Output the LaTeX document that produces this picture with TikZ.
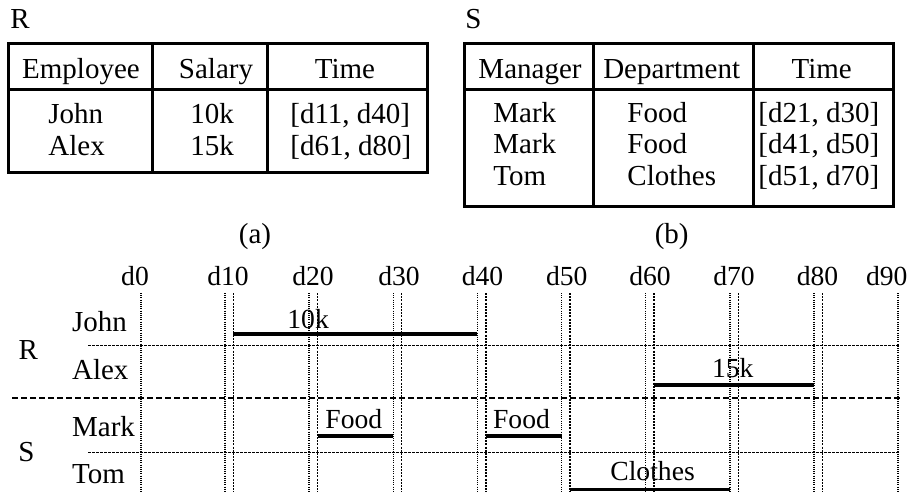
\documentclass[tikz,border=0pt]{standalone}
\usepackage{fontspec}
\setmainfont{Liberation Serif}
\usetikzlibrary{positioning}

% x position of a day on the time axis
\newcommand{\dayx}[1]{140.8+8.415*#1}

\begin{document}
\begin{tikzpicture}[
    x=0.5pt, y=-0.5pt,
    txt/.style={inner sep=0pt, font=\fontsize{14.5}{17}\selectfont},
    small/.style={inner sep=0pt, font=\fontsize{13.8}{16}\selectfont},
    frame/.style={line width=1.5pt},
    bar/.style={line width=1.8pt},
    daygrid/.style={line width=0.7pt, dash pattern=on 0.5pt off 0.6pt},
    daygridb/.style={line width=0.7pt, dash pattern=on 1pt off 0.6pt},
    rowsep/.style={line width=0.7pt, dash pattern=on 1.5pt off 0.5pt},
    relsep/.style={line width=1.1pt, dash pattern=on 3pt off 1.5pt}
]
    \useasboundingbox (0,0) rectangle (913,493);

    % Table R
    \node[txt, anchor=base west] (rname) at (10,28) {R};
    \draw[frame] (8,43) rectangle (427,172);
    \draw[frame] (8,89) -- (427,89);
    \draw[frame] (152,43) -- (152,172);
    \draw[frame] (267,43) -- (267,172);
    \node[txt, anchor=base] (remp) at (81,78) {Employee};
    \node[txt, anchor=base] (rsal) at (216,78) {Salary};
    \node[txt, anchor=base] (rtime) at (345,78) {Time};
    \node[txt, anchor=base west] (rj) at (48,123) {John};
    \node[txt, anchor=base west] (ra) at (48,155) {Alex};
    \node[txt, anchor=base west] (rjs) at (190,123) {10k};
    \node[txt, anchor=base west] (ras) at (190,155) {15k};
    \node[txt, anchor=base west] (rjt) at (290,123) {[d11, d40]};
    \node[txt, anchor=base west] (rat) at (290,155) {[d61, d80]};
    \node[txt, anchor=base] (capa) at (255,243) {(a)};

    % Table S
    \node[txt, anchor=base west] (sname) at (465,28) {S};
    \draw[frame] (464,43) rectangle (893,206);
    \draw[frame] (464,89) -- (893,89);
    \draw[frame] (593,43) -- (593,206);
    \draw[frame] (753,43) -- (753,206);
    \node[txt, anchor=base] (smgr) at (530,78) {Manager};
    \node[txt, anchor=base] (sdep) at (671.7,78) {Department};
    \node[txt, anchor=base] (stime) at (821.7,78) {Time};
    \node[txt, anchor=base west] (sm1) at (493,122) {Mark};
    \node[txt, anchor=base west] (sm2) at (493,153.5) {Mark};
    \node[txt, anchor=base west] (st) at (493,185) {Tom};
    \node[txt, anchor=base west] (sm1d) at (627,122) {Food};
    \node[txt, anchor=base west] (sm2d) at (627,153.5) {Food};
    \node[txt, anchor=base west] (std) at (627,185) {Clothes};
    \node[txt, anchor=base west] (sm1t) at (758,122) {[d21, d30]};
    \node[txt, anchor=base west] (sm2t) at (758,153.5) {[d41, d50]};
    \node[txt, anchor=base west] (stt) at (758,185) {[d51, d70]};
    \node[txt, anchor=base] (capb) at (671.7,243) {(b)};

    % Time axis
    \foreach \d/\cx in {0/135, 10/228, 20/313, 30/399, 40/482.5, 50/566.7, 60/650, 70/734, 80/817.5, 90/886.7}
        \node[small, anchor=base] (tick\d) at (\cx,285) {d\d};
    \foreach \d in {0,10,...,90}
        \draw[daygrid] ({\dayx{\d}},293) -- ({\dayx{\d}},492);
    \foreach \d in {11,21,...,81}
        \draw[daygridb] ({\dayx{\d}},293) -- ({\dayx{\d}},492);

    % Row separators
    \draw[rowsep] (88,345.7) -- (900,345.7);
    \draw[rowsep] (88,452.3) -- (900,452.3);
    \draw[relsep] (12,398.3) -- (900,398.3);

    % Row labels
    \node[txt, anchor=base west] (lr) at (18.3,359) {R};
    \node[txt, anchor=base west] (ls) at (18,461.7) {S};
    \node[txt, anchor=base west] (lj) at (71.7,331.7) {John};
    \node[txt, anchor=base west] (la) at (71.7,379.3) {Alex};
    \node[txt, anchor=base west] (lm) at (71.7,436.7) {Mark};
    \node[txt, anchor=base west] (lt) at (71.7,483.3) {Tom};

    % Intervals
    \draw[bar] ({\dayx{11}},334) -- ({\dayx{40}},334);
    \node[small, anchor=base west] (bj) at (287,328.3) {10k};
    \draw[bar] ({\dayx{61}},385) -- ({\dayx{80}},385);
    \node[small, anchor=base west] (ba) at (711.7,377.7) {15k};
    \draw[bar] ({\dayx{21}},436) -- ({\dayx{30}},436);
    \node[small, anchor=base west] (bm1) at (325,428.3) {Food};
    \draw[bar] ({\dayx{41}},436) -- ({\dayx{50}},436);
    \node[small, anchor=base west] (bm2) at (492.7,428.3) {Food};
    \draw[bar] ({\dayx{51}},489.3) -- ({\dayx{70}},489.3);
    \node[small, anchor=base west] (bt) at (610,480) {Clothes};
\end{tikzpicture}
\end{document}
